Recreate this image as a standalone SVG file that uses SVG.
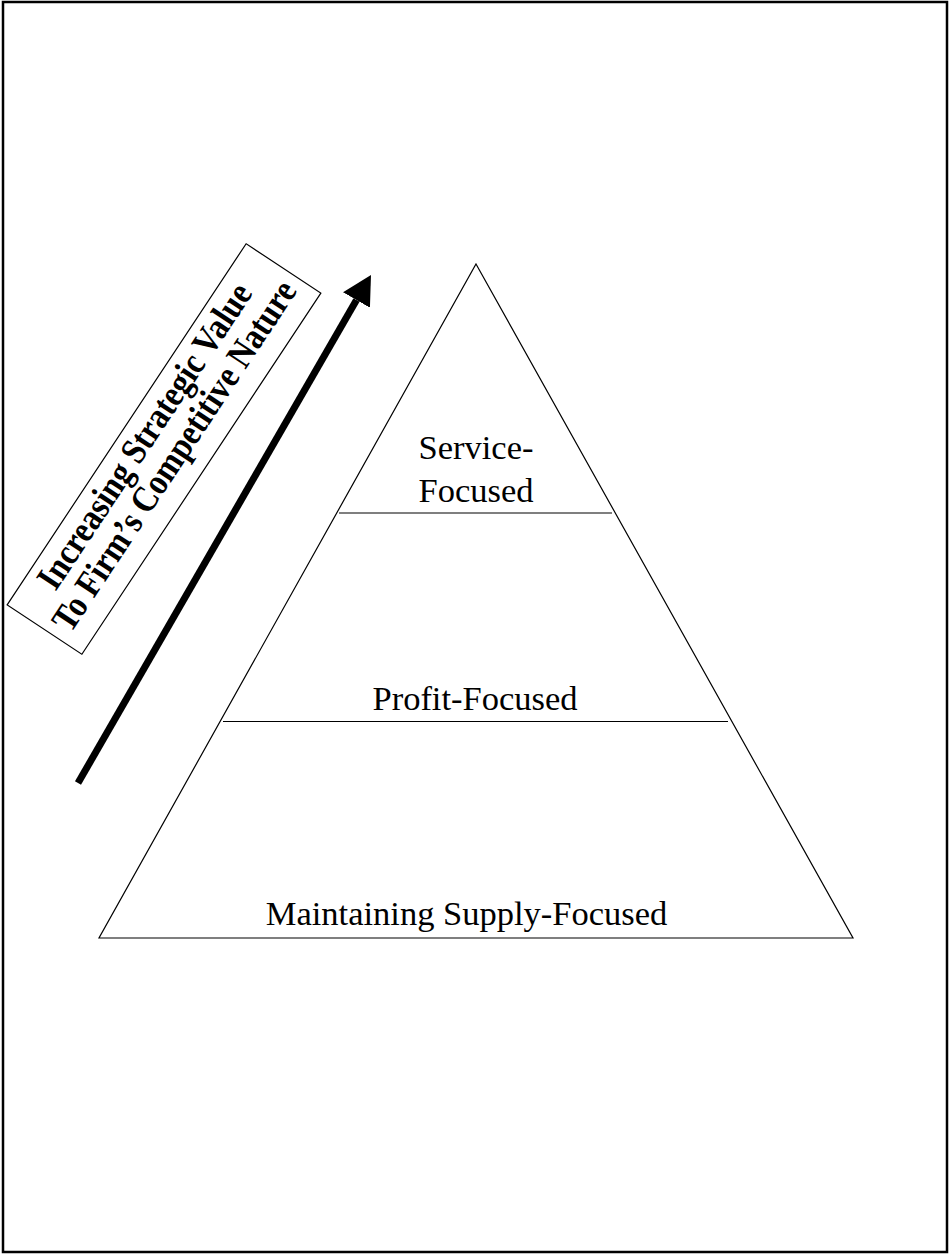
<svg xmlns="http://www.w3.org/2000/svg" width="949" height="1254" viewBox="0 0 949 1254">
<style>
.frame{fill:#fff;stroke:#000;stroke-width:2.5}
.thin{fill:none;stroke:#000;stroke-width:1.2}
.lbl{font-family:"Liberation Serif","Times New Roman",serif;font-size:34.5px;fill:#000;text-anchor:middle}
.bold{font-family:"Liberation Serif","Times New Roman",serif;font-size:32px;font-weight:bold;fill:#000;text-anchor:middle}
</style>
<defs>
<marker id="head" markerUnits="userSpaceOnUse" viewBox="0 0 29 31" markerWidth="29" markerHeight="31" refX="0" refY="15.5" orient="auto">
<path d="M0,0 L29,15.5 L0,31 z" fill="#000"/>
</marker>
</defs>
<rect class="frame" x="3" y="2" width="944" height="1250"/>
<g id="pyramid">
<polygon class="thin" points="476,264 853,938 99,938"/>
</g>
<g id="tier-service">
<line class="thin" x1="339" y1="513" x2="612" y2="513"/>
<text class="lbl" x="476" y="459">Service-</text>
<text class="lbl" x="476" y="502">Focused</text>
</g>
<g id="tier-profit">
<line class="thin" x1="223" y1="721.5" x2="728" y2="721.5"/>
<text class="lbl" x="475" y="710">Profit-Focused</text>
</g>
<g id="tier-supply">
<text class="lbl" x="466.5" y="925">Maintaining Supply-Focused</text>
</g>
<g id="value-label" transform="translate(164,449) rotate(-56.5)">
<rect class="thin" x="-216.5" y="-44.8" width="433" height="89.6"/>
<g transform="scale(1,1.15)">
<text class="bold" x="0" y="-10">Increasing Strategic Value</text>
<text class="bold" x="0" y="21">To Firm’s Competitive Nature</text>
</g>
</g>
<g id="connectors">
<line x1="78" y1="783" x2="356.5" y2="300" stroke="#000" stroke-width="7" marker-end="url(#head)"/>
</g>
</svg>
